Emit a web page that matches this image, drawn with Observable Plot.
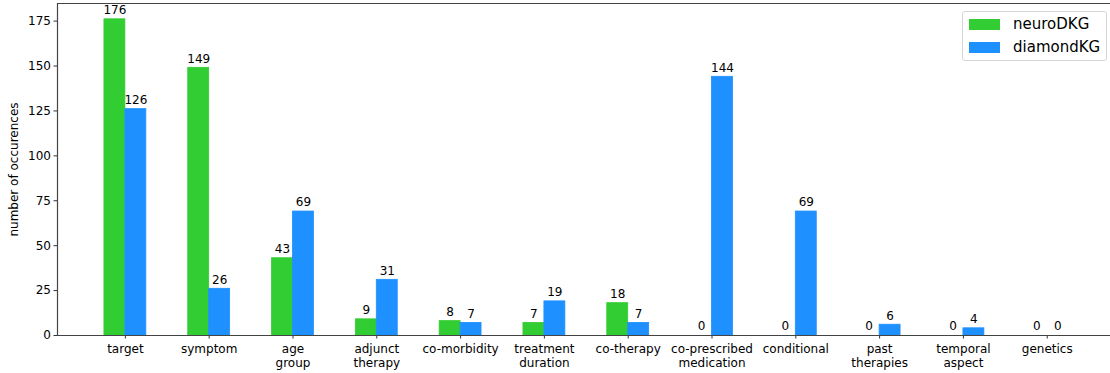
<!DOCTYPE html>
<html>
<head>
<meta charset="utf-8">
<script src="https://cdn.jsdelivr.net/npm/d3@7"></script>
<script src="https://cdn.jsdelivr.net/npm/@observablehq/plot@0.6"></script>
<style>
  html, body { margin: 0; padding: 0; background: #fff; }
  #wrap { position: relative; width: 1110px; height: 373px; font-family: "DejaVu Sans", sans-serif; }
  #legend {
    position: absolute; left: 962px; top: 11px; width: 143px; height: 48px;
    border: 1px solid #d6d6d6; border-radius: 3px; background: rgba(255,255,255,0.8);
    font-size: 15px; color: #000;
  }
  .item { position: absolute; left: 6px; display: flex; align-items: center; }
  .sw { width: 31px; height: 11px; margin-right: 13px; }
</style>
</head>
<body>
<div id="wrap"></div>
<script>
// Occurrence counts per attribute for the two knowledge graphs
const categories = ["target", "symptom", "age\ngroup", "adjunct\ntherapy", "co-morbidity",
  "treatment\nduration", "co-therapy", "co-prescribed\nmedication", "conditional",
  "past\ntherapies", "temporal\naspect", "genetics"];
const seriesNames = ["neuroDKG", "diamondKG"];
const neuroDKG = [176, 149, 43, 9, 8, 7, 18, 0, 0, 0, 0, 0];
const diamondKG = [126, 26, 69, 31, 7, 19, 7, 144, 69, 6, 4, 0];
const yTicks = [0, 25, 50, 75, 100, 125, 150, 175];
const colors = ["#32cd32", "#1e90ff"];

const barWidth = 0.25;
const rows = [];
[neuroDKG, diamondKG].forEach((vals, s) => {
  vals.forEach((v, i) => {
    const x1 = i + (s === 0 ? -barWidth : 0);
    rows.push({i, series: seriesNames[s], value: v, x1, x2: x1 + barWidth, xm: x1 + barWidth / 2});
  });
});

const chart = Plot.plot({
  width: 1110,
  height: 373,
  marginLeft: 57,
  marginRight: 0,
  marginTop: 3,
  marginBottom: 38,
  style: {fontFamily: "DejaVu Sans, sans-serif", fontSize: "12px", color: "#000", background: "#fff"},
  x: {type: "linear", domain: [-0.81, 11.755]},
  y: {domain: [0, 184.8]},
  color: {domain: seriesNames, range: colors},
  marks: [
    Plot.rectY(rows, {x1: "x1", x2: "x2", y: "value", fill: "series", stroke: "series", strokeWidth: 0.8}),
    Plot.text(rows, {x: "xm", y: "value", text: d => String(d.value), dy: -9, fontSize: 12, fill: "#000"}),
    Plot.axisY({ticks: yTicks, tickSize: 3.5, tickPadding: 3, fontSize: 12, stroke: "#333",
      label: "number of occurences", labelAnchor: "center", labelArrow: "none", labelOffset: 48}),
    Plot.axisX({ticks: d3.range(categories.length), tickFormat: i => categories[i],
      tickSize: 3.5, tickPadding: 4, fontSize: 12, lineHeight: 1.15, stroke: "#333", label: null}),
    Plot.ruleY([0], {stroke: "#444", strokeWidth: 1.2}),
    Plot.ruleY([184.8], {stroke: "#444", strokeWidth: 1.2}),
    Plot.ruleX([-0.81], {stroke: "#444", strokeWidth: 1.2})
  ]
});

const wrap = document.getElementById("wrap");
wrap.appendChild(chart);

const legend = document.createElement("div");
legend.id = "legend";
seriesNames.forEach((name, k) => {
  const item = document.createElement("div");
  item.className = "item";
  item.style.top = (k === 0 ? 3 : 26) + "px";
  const sw = document.createElement("div");
  sw.className = "sw";
  sw.style.background = colors[k];
  const label = document.createElement("span");
  label.textContent = name;
  item.appendChild(sw);
  item.appendChild(label);
  legend.appendChild(item);
});
wrap.appendChild(legend);
</script>
</body>
</html>
